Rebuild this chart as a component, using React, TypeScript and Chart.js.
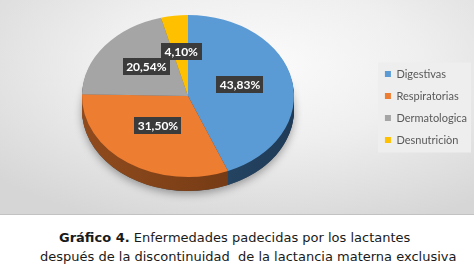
import React, { useEffect, useRef } from "react";
import { Chart, registerables } from "chart.js";

Chart.register(...registerables);

const categories = ["Digestivas", "Respiratorias", "Dermatologica", "Desnutriciòn"];
const percentages = [43.83, 31.5, 20.54, 4.1];
const valueLabels = ["43,83%", "31,50%", "20,54%", "4,10%"];
const faceColors = ["#5B9BD5", "#ED7D31", "#A5A5A5", "#FFC000"];
const sideLight = ["#2E5678", "#904B1D", "#6E6E6E", "#A67C00"];
const sideDark = ["#1F3B57", "#6A3411", "#555555", "#806000"];

const PIE_CENTER_X = 188;
const PIE_CENTER_Y = 96;
const PIE_RADIUS_X = 106;
const TILT = 0.764;
const DEPTH = 14;
const LABEL_LIFT = 4;

function geom(chart: any) {
  const arcs = chart.getDatasetMeta(0).data as any[];
  const a = arcs[0];
  const sx = PIE_RADIUS_X / a.outerRadius;
  return { arcs, X0: a.x, Y0: a.y, R: a.outerRadius, sx, sy: sx * TILT };
}

const pie3d = {
  id: "pie3d",
  beforeDatasetsDraw(chart: any) {
    const ctx = chart.ctx as CanvasRenderingContext2D;
    const g = geom(chart);
    const apply = (dy: number) => {
      ctx.translate(PIE_CENTER_X, PIE_CENTER_Y + dy);
      ctx.scale(g.sx, g.sy);
      ctx.translate(-g.X0, -g.Y0);
    };
    // soft shadow under the pie
    ctx.save();
    apply(DEPTH);
    ctx.shadowColor = "rgba(0,0,0,0.35)";
    ctx.shadowBlur = 9;
    ctx.shadowOffsetY = 3;
    ctx.beginPath();
    ctx.arc(g.X0, g.Y0, g.R, 0, Math.PI * 2);
    ctx.fillStyle = "#444";
    ctx.fill();
    ctx.restore();
    // extruded side
    for (let d = DEPTH; d >= 1; d--) {
      ctx.save();
      apply(d);
      g.arcs.forEach((el: any, i: number) => {
        const gr = ctx.createLinearGradient(g.X0 - g.R, 0, g.X0 + g.R, 0);
        gr.addColorStop(0, sideLight[i]);
        gr.addColorStop(1, sideDark[i]);
        ctx.beginPath();
        ctx.moveTo(el.x, el.y);
        ctx.arc(el.x, el.y, el.outerRadius, el.startAngle, el.endAngle);
        ctx.closePath();
        ctx.fillStyle = gr;
        ctx.fill();
      });
      ctx.restore();
    }
    ctx.save();
    apply(0);
  },
  afterDatasetsDraw(chart: any) {
    const ctx = chart.ctx as CanvasRenderingContext2D;
    ctx.restore();
    const g = geom(chart);
    ctx.save();
    ctx.font = "bold 12px Lato";
    ctx.textAlign = "center";
    ctx.textBaseline = "middle";
    g.arcs.forEach((el: any, i: number) => {
      const p = el.tooltipPosition();
      const x = PIE_CENTER_X + (p.x - g.X0) * g.sx;
      const y = PIE_CENTER_Y + (p.y - g.Y0) * g.sy - LABEL_LIFT;
      const text = valueLabels[i];
      const w = ctx.measureText(text).width + 7;
      const h = 17;
      ctx.fillStyle = "#3b3b3b";
      ctx.fillRect(Math.round(x - w / 2), Math.round(y - h / 2), Math.round(w), h);
      ctx.fillStyle = "#ffffff";
      ctx.fillText(text, x, y + 0.5);
    });
    ctx.restore();
  },
};

const legendBg = {
  id: "legendBg",
  beforeDraw(chart: any) {
    const boxes = chart.legend?.legendHitBoxes as any[];
    if (!boxes || !boxes.length) return;
    const left = Math.min(...boxes.map((b) => b.left)) - 7;
    const top = Math.min(...boxes.map((b) => b.top)) - 6;
    const right = Math.max(...boxes.map((b) => b.left + b.width)) + 4;
    const bottom = Math.max(...boxes.map((b) => b.top + b.height)) + 7;
    const ctx = chart.ctx as CanvasRenderingContext2D;
    ctx.save();
    ctx.fillStyle = "#eeeeee";
    ctx.fillRect(left, top, right - left, bottom - top);
    ctx.restore();
  },
};

export default function App() {
  const ref = useRef<HTMLCanvasElement | null>(null);
  useEffect(() => {
    if (!ref.current) return;
    const chart = new Chart(ref.current, {
      type: "pie",
      data: {
        labels: categories,
        datasets: [
          {
            data: percentages,
            backgroundColor: faceColors,
            borderWidth: 0,
            clip: false,
          } as any,
        ],
      },
      options: {
        responsive: false,
        animation: false,
        events: [],
        layout: { padding: { left: 0, right: -3, top: 0, bottom: 0 } },
        plugins: {
          legend: {
            position: "right",
            labels: {
              boxWidth: 6,
              boxHeight: 6,
              padding: 11,
              color: "#595959",
              font: { family: "Lato", size: 11 },
            },
          },
          tooltip: { enabled: false },
        },
      },
      plugins: [pie3d, legendBg],
    });
    return () => chart.destroy();
  }, []);

  return (
    <div
      style={{
        position: "absolute",
        left: 0,
        top: 0,
        width: 474,
        height: 274,
        background: "#ffffff",
        overflow: "hidden",
      }}
    >
      <div
        style={{
          width: 474,
          height: 214,
          borderBottom: "1px solid #c2c2c2",
          background:
            "radial-gradient(ellipse 75% 80% at 55% 30%, #fbfbfb 0%, #efefef 45%, #d6d6d6 100%)",
        }}
      >
        <canvas ref={ref} width={474} height={214} style={{ display: "block" }} />
      </div>
      <div
        style={{
          position: "absolute",
          top: 228,
          left: 59,
          font: "13px 'DejaVu Sans', Verdana, sans-serif",
          lineHeight: "19px",
          color: "#1a1a1a",
          whiteSpace: "pre",
        }}
      >
        <b>Gráfico 4.</b> Enfermedades padecidas por los lactantes
      </div>
      <div
        style={{
          position: "absolute",
          top: 247,
          left: 40,
          font: "13px 'DejaVu Sans', Verdana, sans-serif",
          lineHeight: "19px",
          color: "#1a1a1a",
          whiteSpace: "pre",
        }}
      >
        después de la discontinuidad  de la lactancia materna exclusiva
      </div>
    </div>
  );
}
